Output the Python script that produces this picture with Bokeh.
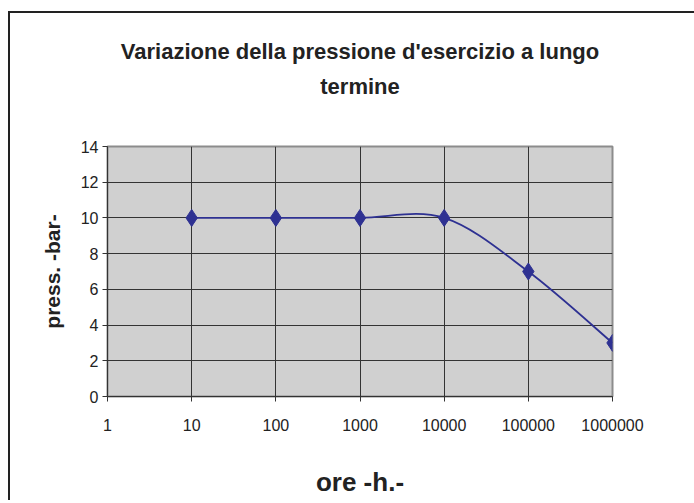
from bokeh.plotting import figure
from bokeh.models import Range1d, FixedTicker, Title, ColumnDataSource
from bokeh.embed import file_html
from bokeh.resources import INLINE

# ---- data ----
categories = ["1", "10", "100", "1000", "10000", "100000", "1000000"]
pressure = [None, 10, 10, 10, 10, 7, 3]
y_ticks = [0, 2, 4, 6, 8, 10, 12, 14]
title_line1 = "Variazione della pressione d'esercizio a lungo"
title_line2 = "termine"
x_title = "ore -h.-"
y_title = "press. -bar-"

NAVY = "#2e3192"
FONT = "Liberation Sans"

W, H = 686, 489
p = figure(width=W, height=H, output_backend="svg", toolbar_location=None,
           x_range=Range1d(0, len(categories) - 1), y_range=Range1d(0, 14),
           min_border_left=97, min_border_right=84, min_border_top=133, min_border_bottom=106)
p.margin = (11, 0, 0, 8)
p.styles = {"border-left": "2px solid #222222", "border-top": "2px solid #222222",
            "border-right": "none", "border-bottom": "none",
            "outline": "none", "box-shadow": "none"}

p.background_fill_color = "#d0d0d0"
p.border_fill_color = "white"
p.outline_line_color = "#8c8c8c"
p.outline_line_width = 2

xs_idx = list(range(len(categories)))
p.xaxis.ticker = FixedTicker(ticks=xs_idx)
p.xaxis.major_label_overrides = {i: c for i, c in zip(xs_idx, categories)}
p.yaxis.ticker = FixedTicker(ticks=y_ticks)
p.xgrid.ticker = FixedTicker(ticks=xs_idx)
p.ygrid.ticker = FixedTicker(ticks=y_ticks)
for g in (p.xgrid, p.ygrid):
    g.grid_line_color = "#333333"
    g.grid_line_width = 1

for ax in (p.xaxis, p.yaxis):
    ax.axis_line_color = "#333333"
    ax.axis_line_width = 1
    ax.major_tick_line_color = "#333333"
    ax.major_tick_out = 5
    ax.major_tick_in = 0
    ax.minor_tick_line_color = None
    ax.major_label_text_font = FONT
    ax.major_label_text_font_size = "16px"
    ax.major_label_text_color = "#222222"

p.yaxis.major_label_standoff = 4
p.xaxis.major_label_standoff = 17
p.yaxis.axis_label = y_title
p.yaxis.axis_label_text_font = FONT
p.yaxis.axis_label_text_font_style = "bold"
p.yaxis.axis_label_text_font_size = "21px"
p.yaxis.axis_label_text_color = "#222222"
p.yaxis.axis_label_standoff = 14
p.xaxis.axis_label = x_title
p.xaxis.axis_label_text_font = FONT
p.xaxis.axis_label_text_font_style = "bold"
p.xaxis.axis_label_text_font_size = "26px"
p.xaxis.axis_label_text_color = "#222222"
p.xaxis.axis_label_standoff = 33

# titles (added inner first): spacer, second line, first line
p.add_layout(Title(text=" ", text_font_size="1px", standoff=39), "above")
p.add_layout(Title(text=title_line2, align="center", text_font=FONT, text_font_style="bold",
                   text_font_size="22px", text_color="#222222", standoff=11), "above")
p.add_layout(Title(text=title_line1, align="center", text_font=FONT, text_font_style="bold",
                   text_font_size="22px", text_color="#222222", standoff=6), "above")

# smoothed line (Catmull-Rom / Bezier through the data points)
pts = [(x, v) for x, v in zip(xs_idx, pressure) if v is not None]
seg = dict(x0=[], y0=[], x1=[], y1=[], cx0=[], cy0=[], cx1=[], cy1=[])
for i in range(len(pts) - 1):
    p0 = pts[max(i - 1, 0)]
    p1 = pts[i]
    p2 = pts[i + 1]
    p3 = pts[min(i + 2, len(pts) - 1)]
    seg["x0"].append(p1[0]); seg["y0"].append(p1[1])
    seg["x1"].append(p2[0]); seg["y1"].append(p2[1])
    seg["cx0"].append(p1[0] + (p2[0] - p0[0]) / 6); seg["cy0"].append(p1[1] + (p2[1] - p0[1]) / 6)
    seg["cx1"].append(p2[0] - (p3[0] - p1[0]) / 6); seg["cy1"].append(p2[1] - (p3[1] - p1[1]) / 6)
p.bezier(x0="x0", y0="y0", x1="x1", y1="y1", cx0="cx0", cy0="cy0", cx1="cx1", cy1="cy1",
         source=ColumnDataSource(seg), line_color=NAVY, line_width=1.8)

p.scatter([q[0] for q in pts], [q[1] for q in pts], marker="diamond", size=17,
          fill_color=NAVY, line_color=NAVY)

open("out.html", "w").write(file_html(p, INLINE))
